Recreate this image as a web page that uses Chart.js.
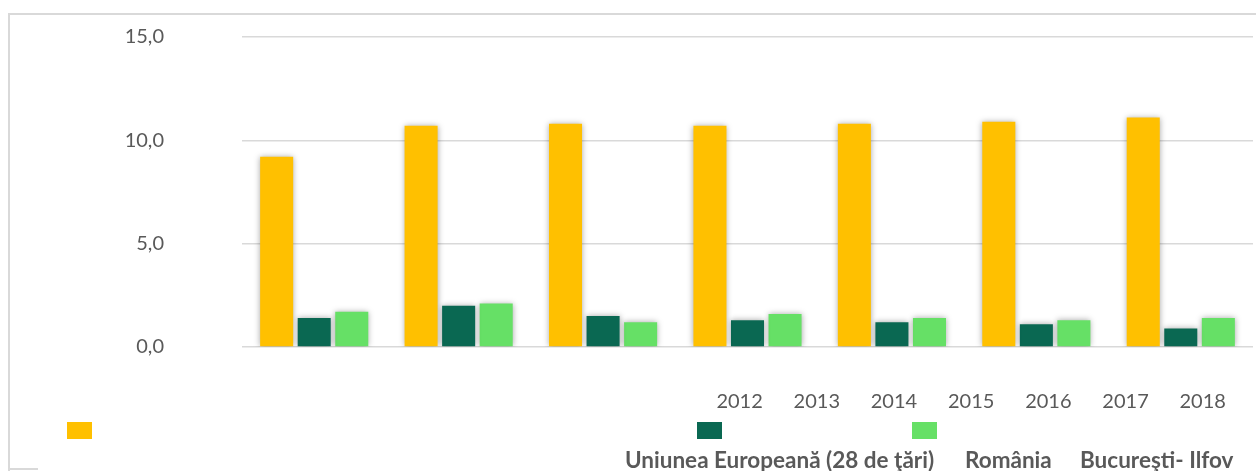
<!DOCTYPE html>
<html>
<head>
<meta charset="utf-8">
<script src="https://cdn.jsdelivr.net/npm/chart.js@4"></script>
<style>
  body { margin: 0; background: #fff; font-family: Lato, "Open Sans", sans-serif; color: #595959; }
  #wrap { position: relative; width: 1256px; height: 471px; overflow: hidden; }
  #frame { position: absolute; left: 8px; top: 13px; width: 1400px; height: 600px; border-left: 2px solid #d9d9d9; border-top: 2px solid #d9d9d9; }
  #stub { position: absolute; left: 8px; top: 468px; width: 30px; height: 2px; background: #d9d9d9; }
  canvas { position: absolute; left: 0; top: 0; }
  #years { position: absolute; left: 701px; top: 388px; display: flex; font-size: 20px; }
  #years div { width: 77.2px; text-align: center; }
  .sw { position: absolute; top: 422px; width: 25px; height: 17px; }
  .lb { position: absolute; top: 446px; font-size: 22.5px; font-weight: bold; white-space: nowrap; }
</style>
</head>
<body>
<div id="wrap">
  <div id="frame"></div>
  <div id="stub"></div>
  <canvas id="c" width="1256" height="471"></canvas>
  <div id="years"></div>
</div>
<script>
const years = ["2012", "2013", "2014", "2015", "2016", "2017", "2018"];
const seriesNames = ["Uniunea Europeană (28 de ţări)", "România", "Bucureşti- Ilfov"];
const euValues = [9.2, 10.7, 10.8, 10.7, 10.8, 10.9, 11.1];
const roValues = [1.4, 2.0, 1.5, 1.3, 1.2, 1.1, 0.9];
const biValues = [1.7, 2.1, 1.2, 1.6, 1.4, 1.3, 1.4];
const colors = ["#FFC000", "#0A6852", "#66E066"];
const yTicks = [0, 5, 10, 15];

// legend pieces sit where the original put them (swatches and names are out of step)
const swatchLeft = [67, 697, 912];
const labelLeft = [625, 965, 1080];

const wrap = document.getElementById("wrap");
seriesNames.forEach((n, i) => {
  const s = document.createElement("div");
  s.className = "sw";
  s.style.left = swatchLeft[i] + "px";
  s.style.background = colors[i];
  wrap.appendChild(s);
  const l = document.createElement("div");
  l.className = "lb";
  l.style.left = labelLeft[i] + "px";
  l.textContent = n;
  wrap.appendChild(l);
});
document.getElementById("years").innerHTML = years.map(y => `<div>${y}</div>`).join("");

const shadow = {
  id: "shadow",
  beforeDatasetsDraw(chart) {
    const ctx = chart.ctx;
    ctx.save();
    ctx.shadowColor = "rgba(0,0,0,0.35)";
    ctx.shadowBlur = 6;
    ctx.shadowOffsetX = 0;
    ctx.shadowOffsetY = 0;
  },
  afterDatasetsDraw(chart) { chart.ctx.restore(); }
};

new Chart(document.getElementById("c").getContext("2d"), {
  type: "bar",
  data: {
    labels: years,
    datasets: [euValues, roValues, biValues].map((v, i) => ({
      label: seriesNames[i], data: v, backgroundColor: colors[i],
      barPercentage: 0.88, categoryPercentage: 0.78
    }))
  },
  options: {
    responsive: false,
    animation: false,
    layout: { padding: { left: 0, right: 3, top: 37, bottom: 124 } },
    plugins: { legend: { display: false }, tooltip: { enabled: false } },
    scales: {
      x: { display: false },
      y: {
        min: 0, max: 15,
        afterBuildTicks: s => { s.ticks = yTicks.map(v => ({ value: v })); },
        afterFit: s => { s.width = 242; s.paddingTop = 0; s.paddingBottom = 0; },
        border: { display: false },
        grid: { color: "#d9d9d9", lineWidth: 1.5, drawTicks: false },
        ticks: {
          padding: 78, color: "#595959",
          font: { family: "Lato", size: 20 },
          callback: v => v.toFixed(1).replace(".", ",")
        }
      }
    }
  },
  plugins: [shadow]
});
</script>
</body>
</html>
